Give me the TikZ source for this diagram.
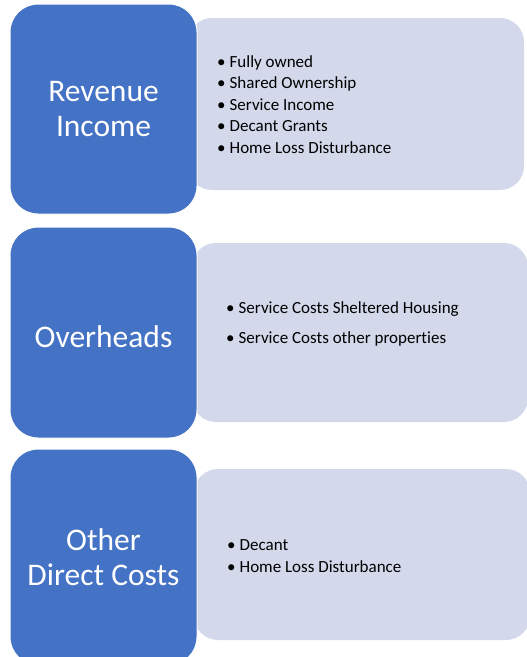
\documentclass[tikz,border=0pt]{standalone}
\usepackage{fontspec}
\setmainfont[Ligatures=NoCommon]{Carlito}
\definecolor{catblue}{HTML}{4472C4}
\definecolor{listgrey}{HTML}{D3D8EB}
\tikzset{
	catbox/.style={fill=catblue, draw=white, line width=1pt, rounded corners=28pt, text=white, align=center,
		minimum width=187pt, font=\fontsize{31.5}{35}\selectfont},
	listbox/.style={fill=listgrey, rounded corners=24pt, minimum width=336pt},
	items/.style={anchor=north west, align=left, inner sep=0pt, font=\fontsize{17}{21.5}\selectfont},
}
\newcommand{\itm}{\textbullet\hspace{4pt}}
\begin{document}
\begin{tikzpicture}[x=1pt, y=-1pt]
	\useasboundingbox (0,0) rectangle (527,657);
		\path node[listbox, minimum height=172pt] (l1) at (356,104) {};
		\path node[listbox, minimum height=179pt] (l2) at (360,332.5) {};
		\path node[listbox, minimum height=171pt] (l3) at (362,554.5) {};
		\path node[catbox, minimum height=210pt] (rev) at (103.5,109) {Revenue\\Income};
		\path node[catbox, minimum height=211pt, text height=30pt] (ovh) at (103.5,332.5) {Overheads};
		\path node[catbox, minimum height=216pt] (odc) at (103.5,557) {Other\\Direct Costs};
		\path (217,55) node[items] (revl) {\itm Fully owned\\\itm Shared Ownership\\\itm Service Income\\\itm Decant Grants\\\itm Home Loss Disturbance};
		\path (226,301) node[items, font=\fontsize{17}{30}\selectfont] (ovhl) {\itm Service Costs Sheltered Housing\\\itm Service Costs other properties};
		\path (227,539) node[items, font=\fontsize{17}{22}\selectfont] (odcl) {\itm Decant\\\itm Home Loss Disturbance};
	\end{tikzpicture}
\end{document}
